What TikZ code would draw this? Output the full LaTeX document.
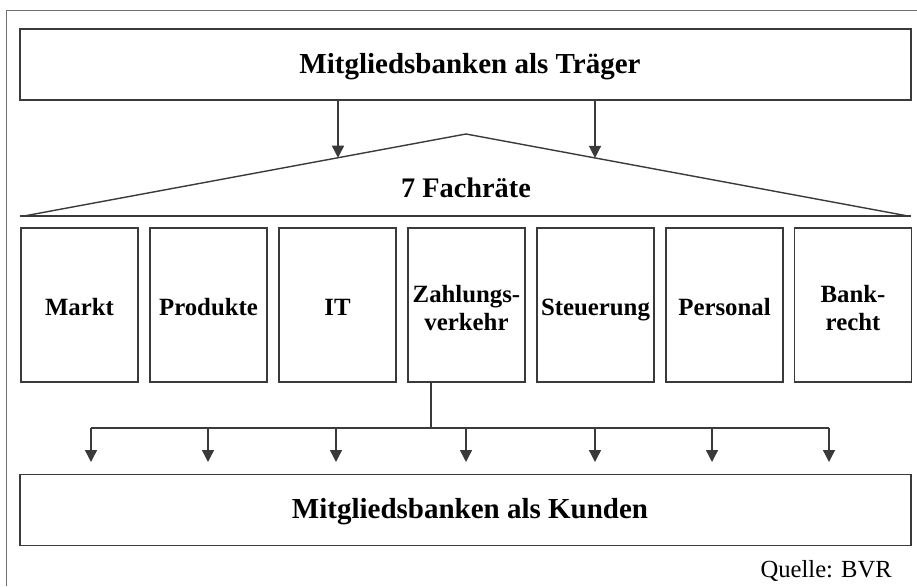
\documentclass[tikz,border=0pt]{standalone}
\usepackage{fontspec}
\setmainfont{Liberation Serif}
\usetikzlibrary{arrows.meta,calc}
\definecolor{edge}{HTML}{3A3A3A}
\definecolor{frame}{HTML}{707070}
\begin{document}
\begin{tikzpicture}[x=1pt,y=-1pt,
  wide/.style={draw=edge,line width=1.6pt,minimum width=891pt,minimum height=71pt,inner sep=0pt},
  council/.style={draw=edge,line width=1.6pt,minimum width=117pt,minimum height=154pt,inner sep=0pt},
  big/.style={anchor=base,inner sep=0pt,font=\fontsize{29}{32}\selectfont\bfseries},
  lbl/.style={anchor=base,inner sep=0pt,font=\fontsize{24.8}{29}\selectfont\bfseries},
  link/.style={draw=edge,line width=1.4pt},
  arr/.style={link,-{Triangle[length=12pt,width=12pt]}}]
  \useasboundingbox (0,0) rectangle (917,586);
  % outer frame (open to the right and bottom)
  \draw[frame,line width=1pt] (6,586) -- (6,11) -- (917,11);

  % sponsors on top
  \node[wide] (top) at (465.5,64.5) {};
  \node[big] (topText) at (470,74) {Mitgliedsbanken als Träger};

  % roof of the councils
  \coordinate (apex) at (466,134);
  \coordinate (bl) at (24,216);
  \coordinate (br) at (908,216);
  \coordinate (baseL) at (20,216);
  \coordinate (baseR) at (911,216);
  \draw[link] (bl) -- (apex) -- (br);
  \draw[link] (baseL) -- (baseR);
  \node[big,font=\fontsize{28.3}{31}\selectfont\bfseries] (roof) at (466,197) {7 Fachräte};

  \coordinate (hitL) at ($(apex)!128/442!(bl)$);
  \coordinate (hitR) at ($(apex)!129/442!(br)$);
  \draw[arr] (top.south -| hitL) -- (hitL);
  \draw[arr] (top.south -| hitR) -- (hitR);

  % the seven councils
  \node[council] (c1) at (79.5,305)  {};
  \node[council] (c2) at (208.5,305) {};
  \node[council] (c3) at (337.5,305) {};
  \node[council] (c4) at (466.5,305) {};
  \node[council] (c5) at (595.5,305) {};
  \node[council] (c6) at (724.5,305) {};
  \node[council] (c7) at (853,305)   {};
  \node[lbl] (l1) at (c1 |- 0,315) {Markt};
  \node[lbl] (l2) at (c2 |- 0,315) {Produkte};
  \node[lbl] (l3) at (c3 |- 0,315) {IT};
  \node[lbl] (l4a) at (c4 |- 0,302) {Zahlungs-};
  \node[lbl] (l4b) at (c4 |- 0,330) {verkehr};
  \node[lbl] (l5) at (c5 |- 0,315) {Steuerung};
  \node[lbl] (l6) at (c6 |- 0,315) {Personal};
  \node[lbl] (l7a) at (c7 |- 0,302) {Bank-};
  \node[lbl] (l7b) at (c7 |- 0,330) {recht};

  % members as customers
  \node[wide] (bottom) at (465.5,510) {};
  \node[big] (bottomText) at (470,518) {Mitgliedsbanken als Kunden};

  % distribution line
  \coordinate (drop) at (431,428);
  \coordinate (busL) at (91,428);
  \coordinate (busR) at (829,428);
  \draw[link] (c4.south -| drop) -- (drop);
  \draw[link] (busL) -- (busR);
  \foreach \x in {91,208,336,466,595,712,829}{
    \coordinate (b\x) at (\x,428);
    \coordinate (t\x) at (\x,462);
    \draw[arr] (b\x) -- (t\x);
  }

  \node[anchor=base east,inner sep=0pt,font=\fontsize{24.6}{28}\selectfont] (src) at (892,577) {Quelle: BVR};
\end{tikzpicture}
\end{document}
